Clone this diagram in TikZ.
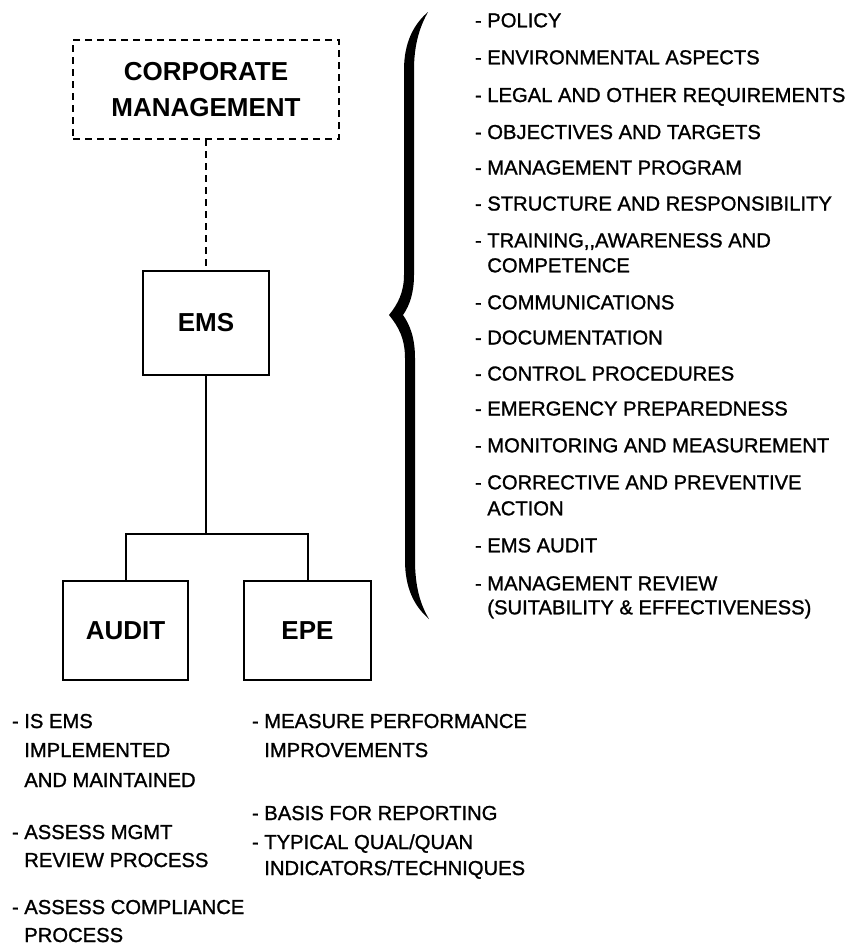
\documentclass[tikz,border=0pt]{standalone}
\usepackage{fontspec}
\setmainfont{Liberation Sans}
\newfontfamily\lstfont{Liberation Sans}[FakeBold=1.2]
\begin{document}
\begin{tikzpicture}[x=1pt,y=-1pt,
  box/.style={draw,line width=2pt,inner sep=0pt,outer sep=0pt,align=center,
    font=\fontsize{26}{36}\selectfont\bfseries},
  dbox/.style={box,dash pattern=on 7pt off 5pt},
  lst/.style={inner sep=0pt,outer sep=0pt,anchor=base west,
    font=\fontsize{20.2}{24}\selectfont\lstfont},
  conn/.style={line width=2pt},
  dconn/.style={line width=2pt,dash pattern=on 7pt off 5pt}]
\useasboundingbox (0,0) rectangle (852,946);

% boxes
\node[dbox,minimum width=266pt,minimum height=99pt] (corp) at (206,89.5) {CORPORATE\\MANAGEMENT};
\node[box,minimum width=126pt,minimum height=104pt] (ems) at (206,323) {EMS};
\node[box,minimum width=125pt,minimum height=99pt] (audit) at (125.5,630.5) {AUDIT};
\node[box,minimum width=127pt,minimum height=99pt] (epe) at (307.5,630.5) {EPE};

% connectors
\draw[dconn] (corp.south) -- (ems.north);
\draw[conn] (ems.south) -- ++(0,159) coordinate (j);
\draw[conn] (audit.north) |- (j) -| (epe.north);

% brace
\fill (428,12) .. controls (414,24) and (404,42) .. (404,70)
  -- (404,275) .. controls (404,292) and (398,304) .. (389,315)
  .. controls (398,326) and (405,338) .. (405,358)
  -- (405,560) .. controls (405,588) and (414,606) .. (429,619)
  .. controls (420,604) and (415,586) .. (415,560)
  -- (415,358) .. controls (415,338) and (410,325) .. (403,315)
  .. controls (410,305) and (414,292) .. (414,275)
  -- (414,70) .. controls (414,46) and (419,28) .. (428,12) -- cycle;

% right list
\node[lst] (r1)  at (475,27.3)  {- POLICY};
\node[lst] (r2)  at (475,64.3)  {- ENVIRONMENTAL ASPECTS};
\node[lst] (r3)  at (475,102)   {- LEGAL AND OTHER REQUIREMENTS};
\node[lst] (r4)  at (475,139)   {- OBJECTIVES AND TARGETS};
\node[lst] (r5)  at (475,174.5) {- MANAGEMENT PROGRAM};
\node[lst] (r6)  at (475,210.5) {- STRUCTURE AND RESPONSIBILITY};
\node[lst] (r7)  at (475,247.3) {- TRAINING,,AWARENESS AND};
\node[lst] (r7b) at (475,272.3) {\phantom{- }COMPETENCE};
\node[lst] (r8)  at (475,309.3) {- COMMUNICATIONS};
\node[lst] (r9)  at (475,344.5) {- DOCUMENTATION};
\node[lst] (r10) at (475,380.5) {- CONTROL PROCEDURES};
\node[lst] (r11) at (475,415.5) {- EMERGENCY PREPAREDNESS};
\node[lst] (r12) at (475,452.3) {- MONITORING AND MEASUREMENT};
\node[lst] (r13) at (475,489.3) {- CORRECTIVE AND PREVENTIVE};
\node[lst] (r13b) at (475,515.3) {\phantom{- }ACTION};
\node[lst] (r14) at (475,552.3) {- EMS AUDIT};
\node[lst] (r15) at (475,590.3) {- MANAGEMENT REVIEW};
\node[lst] (r15b) at (475,614.3) {\phantom{- }(SUITABILITY \& EFFECTIVENESS)};

% audit list
\node[lst] (a1)  at (12,728)  {- IS EMS};
\node[lst] (a1b) at (12,757)  {\phantom{- }IMPLEMENTED};
\node[lst] (a1c) at (12,787)  {\phantom{- }AND MAINTAINED};
\node[lst] (a2)  at (12,839)  {- ASSESS MGMT};
\node[lst] (a2b) at (12,867)  {\phantom{- }REVIEW PROCESS};
\node[lst] (a3)  at (12,914)  {- ASSESS COMPLIANCE};
\node[lst] (a3b) at (12,942)  {\phantom{- }PROCESS};

% epe list
\node[lst] (e1)  at (252,728) {- MEASURE PERFORMANCE};
\node[lst] (e1b) at (252,757) {\phantom{- }IMPROVEMENTS};
\node[lst] (e2)  at (252,820) {- BASIS FOR REPORTING};
\node[lst] (e3)  at (252,849) {- TYPICAL QUAL/QUAN};
\node[lst] (e3b) at (252,875) {\phantom{- }INDICATORS/TECHNIQUES};
\end{tikzpicture}
\end{document}
